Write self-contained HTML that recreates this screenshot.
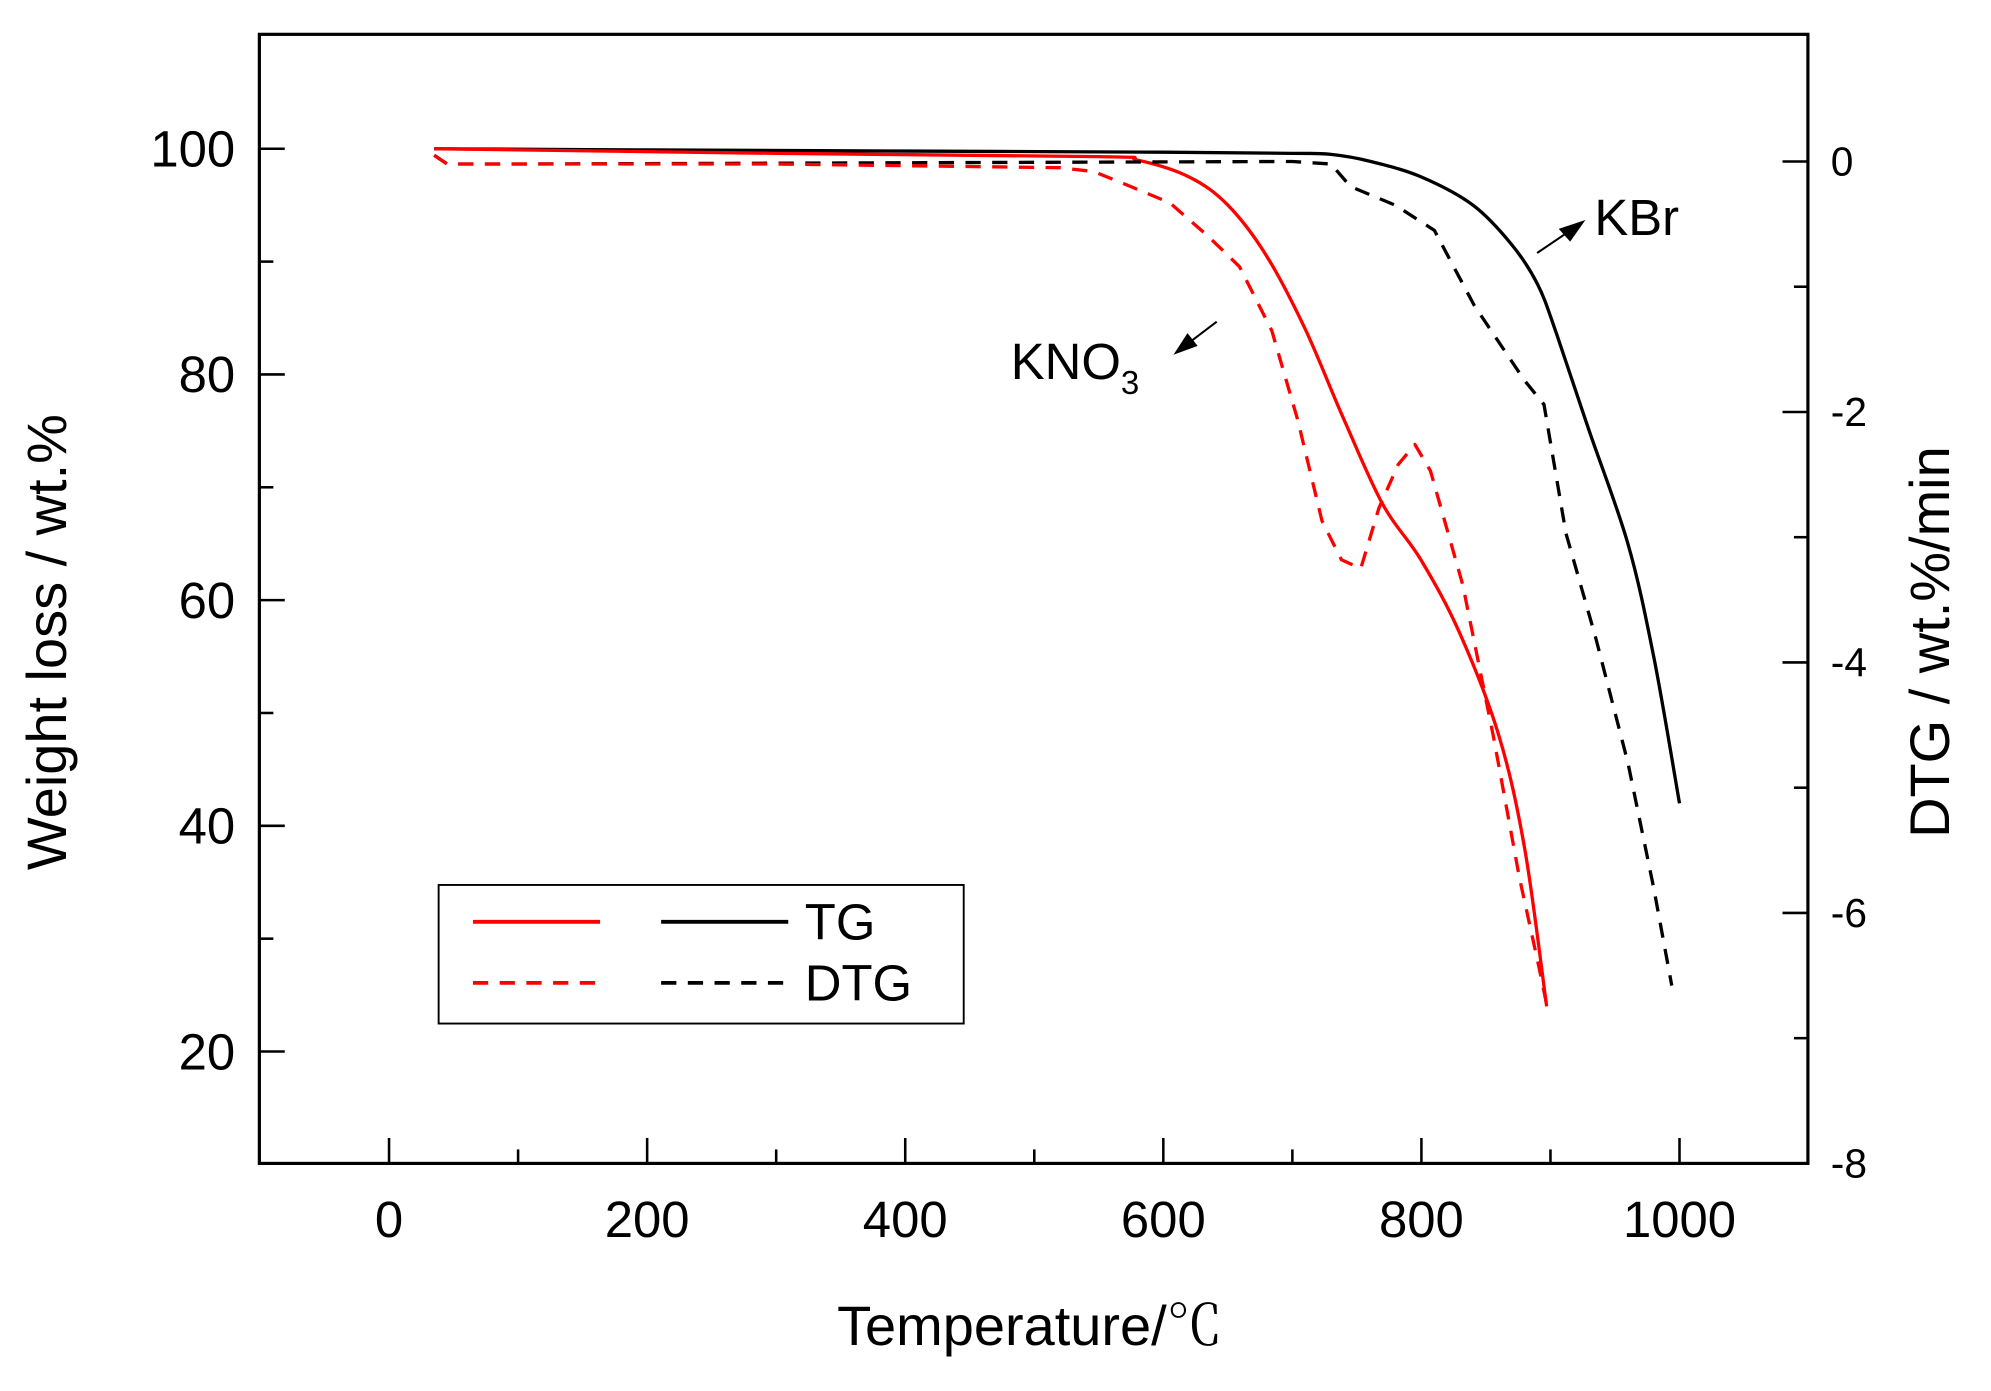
<!DOCTYPE html>
<html><head><meta charset="utf-8"><style>
html,body{margin:0;padding:0;background:#fff;}
svg{display:block;font-family:"Liberation Sans",Arial,sans-serif;}
</style></head><body>
<svg id="chart" width="1991" height="1391" viewBox="0 0 1566 1094" preserveAspectRatio="none" xmlns="http://www.w3.org/2000/svg">
<rect x="0" y="0" width="1566" height="1094" fill="#fff"/>
<g id="marks"></g>
<rect x="204" y="27" width="1218" height="888" fill="none" stroke="#000" stroke-width="2.5"/>
<g id="axes"></g>
<text x="810" y="1058" font-size="44" text-anchor="middle">Temperature/<tspan font-family="'Noto Serif CJK SC',serif">℃</tspan></text>
<text transform="translate(52,505) rotate(-90)" font-size="44" text-anchor="middle">Weight loss / wt.%</text>
<text transform="translate(1533,505) rotate(-90)" font-size="44" text-anchor="middle">DTG / wt.%/min</text>
<g>
<text x="1254" y="185" font-size="40">KBr</text>
<line x1="1209" y1="199" x2="1240" y2="178" stroke="#000" stroke-width="1.6"/>
<polygon points="1247,173 1226,180 1235,190" fill="#000"/>
</g>
<g>
<text x="795" y="298" font-size="40">KNO<tspan font-size="26" dy="12">3</tspan></text>
<line x1="957" y1="253" x2="932" y2="272" stroke="#000" stroke-width="1.6"/>
<polygon points="923,279 934,262 942,272" fill="#000"/>
</g>
<g>
<rect x="345" y="696" width="413" height="109" fill="#fff" stroke="#000" stroke-width="1.5"/>
<line x1="372" y1="725" x2="472" y2="725" stroke="#f00" stroke-width="3"/>
<line x1="520" y1="725" x2="620" y2="725" stroke="#000" stroke-width="3"/>
<text x="633" y="739" font-size="40">TG</text>
<line x1="372" y1="773" x2="472" y2="773" stroke="#f00" stroke-width="3" stroke-dasharray="12,9"/>
<line x1="520" y1="773" x2="620" y2="773" stroke="#000" stroke-width="3" stroke-dasharray="12,9"/>
<text x="633" y="787" font-size="40">DTG</text>
</g>
</svg>
<script>
const xTicks=[0,200,400,600,800,1000];
const yLeftTicks=[20,40,60,80,100];
const yRightTicks=[0,-2,-4,-6,-8];
const tgKBrT=[35,200,400,600,700,730,760,800,840,870,890,905,930,960,980,1000];
const tgKBrV=[100,99.9,99.8,99.7,99.6,99.5,98.9,97.5,95,91.5,88,83.5,75,65,55,42];
const tgKNO3T=[35,300,550,580,620,650,680,710,740,770,800,830,860,880,897];
const tgKNO3V=[100,99.6,99.3,99,97.5,95,90.5,84,76,68.5,63.5,57,48,38,24];
const dtgKBrT=[35,45,100,700,730,745,780,810,841,880,895,912,935,960,980,994];
const dtgKBrV=[0.05,-0.02,-0.02,0,-0.02,-0.2,-0.35,-0.55,-1.15,-1.75,-1.94,-2.97,-3.8,-4.8,-5.8,-6.58];
const dtgKNO3T=[35,45,300,520,546,570,605,634,659,684,704,723,738,753,767,782,795,807,832,856,876,891,897];
const dtgKNO3V=[0.05,-0.02,-0.02,-0.05,-0.08,-0.18,-0.33,-0.59,-0.84,-1.35,-2.06,-2.87,-3.18,-3.25,-2.77,-2.42,-2.26,-2.47,-3.38,-4.6,-5.72,-6.43,-6.73];
const NS='http://www.w3.org/2000/svg';
const X=t=>306+(t/1000)*1015;
const YL=v=>117+(100-v)*8.875;
const YR=v=>127-v*98.5;
const marks=document.getElementById('marks'),axes=document.getElementById('axes');
function mk(tag,attrs,parent){const e=document.createElementNS(NS,tag);for(const k in attrs)e.setAttribute(k,attrs[k]);parent.appendChild(e);return e;}
function pathD(P,smooth){
  if(!smooth)return P.map((p,i)=>(i?'L':'M')+p[0].toFixed(1)+','+p[1].toFixed(1)).join(' ');
  let d='M'+P[0][0].toFixed(1)+','+P[0][1].toFixed(1);
  for(let i=0;i<P.length-1;i++){
    const p0=P[Math.max(0,i-1)],p1=P[i],p2=P[i+1],p3=P[Math.min(P.length-1,i+2)];
    const c1=[p1[0]+(p2[0]-p0[0])/6,p1[1]+(p2[1]-p0[1])/6];
    const c2=[p2[0]-(p3[0]-p1[0])/6,p2[1]-(p3[1]-p1[1])/6];
    d+=' C'+c1[0].toFixed(1)+','+c1[1].toFixed(1)+' '+c2[0].toFixed(1)+','+c2[1].toFixed(1)+' '+p2[0].toFixed(1)+','+p2[1].toFixed(1);
  }
  return d;
}
function series(T,V,Y,color,dash,name,smooth){
  const P=T.map((t,i)=>[X(t),Y(V[i])]);
  const p=mk('path',{d:pathD(P,smooth),fill:'none',stroke:color,'stroke-width':2.6,'stroke-linejoin':'round'},marks);
  if(dash)p.setAttribute('stroke-dasharray','12,9');
  
  
}
series(tgKBrT,tgKBrV,YL,'#000',false,'tg-kbr-line',true);
series(tgKNO3T,tgKNO3V,YL,'#f00',false,'tg-kno3-line',true);
series(dtgKBrT,dtgKBrV,YR,'#000',true,'dtg-kbr-line',false);
series(dtgKNO3T,dtgKNO3V,YR,'#f00',true,'dtg-kno3-line',false);
for(let t=-100;t<=1100;t+=100){const maj=t%200===0;if(t<-50||t>1050)continue;
  const l=mk('line',{x1:X(t),x2:X(t),y1:915,y2:915-(maj?20:11),stroke:'#000','stroke-width':2},axes);
  
  }
xTicks.forEach(t=>{const e=mk('text',{x:X(t),y:973,'font-size':40,'text-anchor':'middle'},axes);e.textContent=t;
  
  });
for(let v=20;v<=100;v+=10){const maj=v%20===0;
  const l=mk('line',{x1:204,x2:204+(maj?20:11),y1:YL(v),y2:YL(v),stroke:'#000','stroke-width':2},axes);
  
  }
yLeftTicks.forEach(v=>{const e=mk('text',{x:185,y:YL(v)+14,'font-size':40,'text-anchor':'end'},axes);e.textContent=v;
  
  });
for(let v=-8;v<=0;v+=1){const maj=v%2===0;
  const l=mk('line',{x1:1422,x2:1422-(maj?20:11),y1:YR(v),y2:YR(v),stroke:'#000','stroke-width':2},axes);
  
  }
yRightTicks.forEach(v=>{const e=mk('text',{x:1440,y:YR(v)+11,'font-size':32},axes);e.textContent=v;
  
  });
</script>
</body></html>
